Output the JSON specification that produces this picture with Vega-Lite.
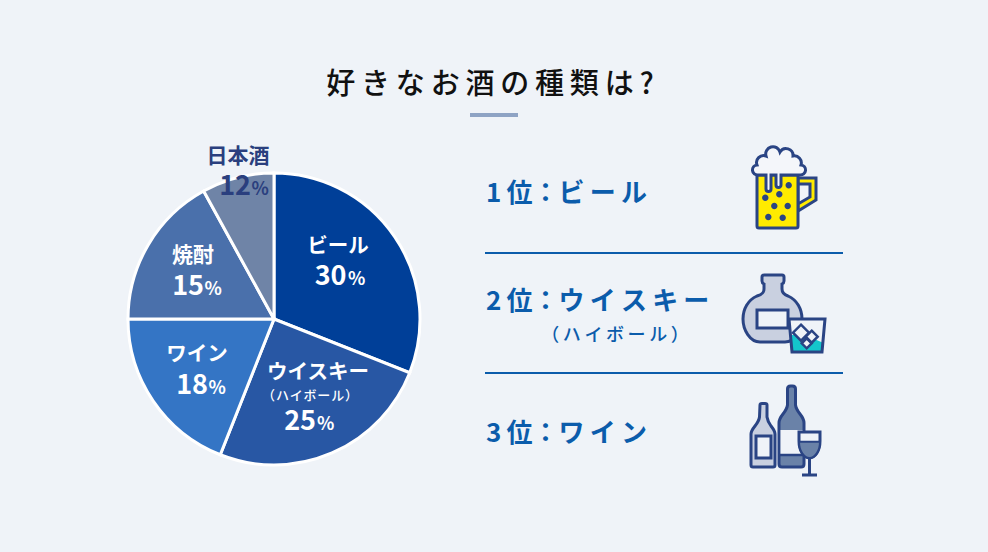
{"$schema":"https://vega.github.io/schema/vega-lite/v6.json","background":"#EFF3F8","padding":{"left":88,"right":145,"top":71,"bottom":14},"spacing":0,
"title":{"text":"好\u2009き\u2009な\u2009お\u2009酒\u2009の\u2009種\u2009類\u2009は\u2009?","font":"Noto Sans CJK JP","fontSize":29,"fontWeight":500,"color":"#111111","anchor":"middle","dx":24,"offset":0,"baseline":"top"},
"config":{"view":{"stroke":null},"axis":{"disable":true},"font":"Noto Sans CJK JP"},
"hconcat":[
{"width":372,"height":438,"data":{"values":[{"order":1,"name":"ビール","share":30,"drawn":31},{"order":2,"name":"ウイスキー","share":25,"drawn":25},{"order":3,"name":"ワイン","share":18,"drawn":19},{"order":4,"name":"焼酎","share":15,"drawn":17},{"order":5,"name":"日本酒","share":12,"drawn":8}]},
"layer":[
{"mark":{"type":"arc","outerRadius":146,"stroke":"#FFFFFF","strokeWidth":3},"encoding":{"theta":{"field":"drawn","type":"quantitative","stack":true},"order":{"field":"order"},"color":{"field":"name","type":"nominal","legend":null,"sort":null,"scale":{"domain":["ビール","ウイスキー","ワイン","焼酎","日本酒"],"range":["#003F98","#2857A4","#3475C5","#4A70AB","#6F84A7"]}}}},
{"transform":[{"filter":"datum.order==1"}],"layer":[
{"mark":{"type":"text","fontSize":20.5,"fontWeight":700,"color":"#FFFFFF"},"encoding":{"x":{"datum":338,"type":"quantitative","scale":{"domain":[88,460]}},"y":{"datum":247,"type":"quantitative","scale":{"domain":[100,538],"reverse":true}},"text":{"field":"name"}}},
{"mark":{"type":"text","fontSize":27,"fontWeight":700,"color":"#FFFFFF","align":"right"},"encoding":{"x":{"datum":346.5,"type":"quantitative","scale":{"domain":[88,460]}},"y":{"datum":277,"type":"quantitative","scale":{"domain":[100,538],"reverse":true}},"text":{"field":"share"}}},
{"mark":{"type":"text","fontSize":18,"fontWeight":700,"color":"#FFFFFF","align":"left","text":"%"},"encoding":{"x":{"datum":348,"type":"quantitative","scale":{"domain":[88,460]}},"y":{"datum":280,"type":"quantitative","scale":{"domain":[100,538],"reverse":true}}}}
]},
{"transform":[{"filter":"datum.order==2"}],"layer":[
{"mark":{"type":"text","fontSize":20.5,"fontWeight":700,"color":"#FFFFFF"},"encoding":{"x":{"datum":318,"type":"quantitative","scale":{"domain":[88,460]}},"y":{"datum":373,"type":"quantitative","scale":{"domain":[100,538],"reverse":true}},"text":{"field":"name"}}},
{"mark":{"type":"text","fontSize":13,"fontWeight":500,"color":"#FFFFFF","text":"\uFF08\u200aハ\u200aイ\u200aボ\u200aー\u200aル\u200a\uFF09"},"encoding":{"x":{"datum":310,"type":"quantitative","scale":{"domain":[88,460]}},"y":{"datum":396,"type":"quantitative","scale":{"domain":[100,538],"reverse":true}}}},
{"mark":{"type":"text","fontSize":27,"fontWeight":700,"color":"#FFFFFF","align":"right"},"encoding":{"x":{"datum":316,"type":"quantitative","scale":{"domain":[88,460]}},"y":{"datum":422,"type":"quantitative","scale":{"domain":[100,538],"reverse":true}},"text":{"field":"share"}}},
{"mark":{"type":"text","fontSize":18,"fontWeight":700,"color":"#FFFFFF","align":"left","text":"%"},"encoding":{"x":{"datum":317,"type":"quantitative","scale":{"domain":[88,460]}},"y":{"datum":425,"type":"quantitative","scale":{"domain":[100,538],"reverse":true}}}}
]},
{"transform":[{"filter":"datum.order==3"}],"layer":[
{"mark":{"type":"text","fontSize":20.5,"fontWeight":700,"color":"#FFFFFF"},"encoding":{"x":{"datum":197,"type":"quantitative","scale":{"domain":[88,460]}},"y":{"datum":355,"type":"quantitative","scale":{"domain":[100,538],"reverse":true}},"text":{"field":"name"}}},
{"mark":{"type":"text","fontSize":27,"fontWeight":700,"color":"#FFFFFF","align":"right"},"encoding":{"x":{"datum":208,"type":"quantitative","scale":{"domain":[88,460]}},"y":{"datum":386,"type":"quantitative","scale":{"domain":[100,538],"reverse":true}},"text":{"field":"share"}}},
{"mark":{"type":"text","fontSize":18,"fontWeight":700,"color":"#FFFFFF","align":"left","text":"%"},"encoding":{"x":{"datum":208.5,"type":"quantitative","scale":{"domain":[88,460]}},"y":{"datum":389,"type":"quantitative","scale":{"domain":[100,538],"reverse":true}}}}
]},
{"transform":[{"filter":"datum.order==4"}],"layer":[
{"mark":{"type":"text","fontSize":21,"fontWeight":700,"color":"#FFFFFF"},"encoding":{"x":{"datum":193,"type":"quantitative","scale":{"domain":[88,460]}},"y":{"datum":256,"type":"quantitative","scale":{"domain":[100,538],"reverse":true}},"text":{"field":"name"}}},
{"mark":{"type":"text","fontSize":27,"fontWeight":700,"color":"#FFFFFF","align":"right"},"encoding":{"x":{"datum":204,"type":"quantitative","scale":{"domain":[88,460]}},"y":{"datum":287,"type":"quantitative","scale":{"domain":[100,538],"reverse":true}},"text":{"field":"share"}}},
{"mark":{"type":"text","fontSize":18,"fontWeight":700,"color":"#FFFFFF","align":"left","text":"%"},"encoding":{"x":{"datum":204.5,"type":"quantitative","scale":{"domain":[88,460]}},"y":{"datum":290,"type":"quantitative","scale":{"domain":[100,538],"reverse":true}}}}
]},
{"transform":[{"filter":"datum.order==5"}],"layer":[
{"mark":{"type":"text","fontSize":21,"fontWeight":700,"color":"#2A3F7E"},"encoding":{"x":{"datum":238,"type":"quantitative","scale":{"domain":[88,460]}},"y":{"datum":157,"type":"quantitative","scale":{"domain":[100,538],"reverse":true}},"text":{"field":"name"}}},
{"mark":{"type":"text","fontSize":27,"fontWeight":700,"color":"#2A3F7E","align":"right"},"encoding":{"x":{"datum":251,"type":"quantitative","scale":{"domain":[88,460]}},"y":{"datum":187,"type":"quantitative","scale":{"domain":[100,538],"reverse":true}},"text":{"field":"share"}}},
{"mark":{"type":"text","fontSize":18,"fontWeight":700,"color":"#2A3F7E","align":"left","text":"%"},"encoding":{"x":{"datum":251.5,"type":"quantitative","scale":{"domain":[88,460]}},"y":{"datum":190,"type":"quantitative","scale":{"domain":[100,538],"reverse":true}}}}
]}
]},
{"width":383,"height":438,"data":{"values":[{"rank":1,"label":"1\u2009位\uFF1Aビ\u2009ー\u2009ル"},{"rank":2,"label":"2\u2009位\uFF1Aウ\u2009イ\u2009ス\u2009キ\u2009ー"},{"rank":3,"label":"3\u2009位\uFF1Aワ\u2009イ\u2009ン"}]},
"encoding":{"y":{"field":"rank","type":"quantitative","scale":{"domain":[0.225,3.875],"reverse":true}}},
"layer":[
{"data":{"values":[{"pos":0.35}]},"mark":{"type":"rule","color":"#8EA3C4","strokeWidth":4},"encoding":{"x":{"datum":470,"type":"quantitative","scale":{"domain":[460,843]}},"x2":{"datum":518},"y":{"field":"pos","type":"quantitative","scale":{"domain":[0.225,3.875],"reverse":true}}}},
{"data":{"values":[{"between":1.5},{"between":2.5}]},"mark":{"type":"rule","color":"#0B5CAB","strokeWidth":2},"encoding":{"x":{"datum":485,"type":"quantitative","scale":{"domain":[460,843]}},"x2":{"datum":843},"y":{"field":"between","type":"quantitative","scale":{"domain":[0.225,3.875],"reverse":true}}}},
{"transform":[{"filter":"datum.rank!=2"}],"mark":{"type":"text","align":"left","fontSize":26,"fontWeight":700,"color":"#0B5CAB","dy":1},"encoding":{"x":{"datum":486,"type":"quantitative","scale":{"domain":[460,843]}},"text":{"field":"label"}}},
{"transform":[{"filter":"datum.rank==2"}],"mark":{"type":"text","align":"left","fontSize":26,"fontWeight":700,"color":"#0B5CAB","dy":-11},"encoding":{"x":{"datum":486,"type":"quantitative","scale":{"domain":[460,843]}},"text":{"field":"label"}}},
{"transform":[{"filter":"datum.rank==2"}],"mark":{"type":"text","align":"center","fontSize":18,"fontWeight":500,"color":"#0B5CAB","dy":23,"text":"\uFF08\u2009ハ\u2009イ\u2009ボ\u2009ー\u2009ル\u2009\uFF09"},"encoding":{"x":{"datum":615,"type":"quantitative","scale":{"domain":[460,843]}}}},
{"transform":[{"filter":"datum.rank==1"}],"encoding":{"x":{"datum":785,"type":"quantitative","scale":{"domain":[460,843]}}},"layer":[
{"mark":{"type":"point","size":4,"filled":true,"opacity":1,"fill":"#FFEB00","stroke":"#2A4484","strokeWidth":3,"shape":"M13 -15 H31 V7 L13 18 Z M13 -9 V11 L25 4 V-9 Z"}},
{"mark":{"type":"point","size":4,"filled":true,"opacity":1,"fill":"#FFEB00","stroke":"#2A4484","strokeWidth":3,"shape":"M-28 -18 H13 V33 Q13 35 11 35 H-26 Q-28 35 -28 33 Z"}},
{"mark":{"type":"point","size":4,"filled":true,"opacity":1,"fill":"#F4F6FA","stroke":"#2A4484","strokeWidth":3,"shape":"M-27 -18 A5 5 0 0 1 -28 -28 A7 7 0 0 1 -19 -37 A7 7 0 0 1 -5 -41 A7 7 0 0 1 8 -37 A7 7 0 0 1 16 -28 A5 5 0 0 1 15 -18 H-4 V-8 A2.5 2.5 0 0 1 -9 -8 V-18 H-14 V-4 A2.5 2.5 0 0 1 -19 -4 V-18 Z"}},
{"mark":{"type":"point","size":4,"filled":true,"opacity":1,"fill":"#2A4484","strokeWidth":0,"shape":"M0.5 -7.7a3.2 3.2 0 1 0 6.4 0a3.2 3.2 0 1 0 -6.4 0Z M-8.9 1.3a3.2 3.2 0 1 0 6.4 0a3.2 3.2 0 1 0 -6.4 0Z M-22.9 4.7a3.2 3.2 0 1 0 6.4 0a3.2 3.2 0 1 0 -6.4 0Z M-13.9 13a3.2 3.2 0 1 0 6.4 0a3.2 3.2 0 1 0 -6.4 0Z M-0.5 13a3.2 3.2 0 1 0 6.4 0a3.2 3.2 0 1 0 -6.4 0Z M-19.9 24a3.2 3.2 0 1 0 6.4 0a3.2 3.2 0 1 0 -6.4 0Z M-5.5 24.7a3.2 3.2 0 1 0 6.4 0a3.2 3.2 0 1 0 -6.4 0Z"}}
]},
{"transform":[{"filter":"datum.rank==2"}],"encoding":{"x":{"datum":785,"type":"quantitative","scale":{"domain":[460,843]}}},"layer":[
{"mark":{"type":"point","size":4,"filled":true,"opacity":1,"fill":"#C9D0E0","stroke":"#2A4484","strokeWidth":3,"shape":"M-21 -38 H-3 Q-1 -38 -1 -36 V-32 Q-1 -30 -3 -29 V-24 Q-3 -19 3 -17 C12 -13 17 -4 17 6 C17 17 10 29 0 29 H-25 C-35 29 -42 17 -42 6 C-42 -4 -37 -13 -28 -17 C-22 -19 -21 -21 -21 -24 V-29 Q-23 -30 -23 -32 V-36 Q-23 -38 -21 -38 Z"}},
{"mark":{"type":"point","size":4,"filled":true,"opacity":1,"fill":"#EFF3F8","stroke":"#2A4484","strokeWidth":3,"shape":"M-28 -3 H3 V15 H-28 Z"}},
{"mark":{"type":"point","size":4,"filled":true,"opacity":1,"fill":"#EFF3F8","stroke":"#2A4484","strokeWidth":0,"shape":"M4 6 H40 L37 39 H7 Z"}},
{"mark":{"type":"point","size":4,"filled":true,"opacity":1,"fill":"#14C6CC","strokeWidth":0,"shape":"M5.5 22 H20 L38.5 30 L37 39 H7 Z"}},
{"mark":{"type":"point","size":4,"filled":true,"opacity":1,"fill":"#EFF3F8","stroke":"#2A4484","strokeWidth":2.5,"shape":"M21.7 25.3 L26.7 30.3 L21.7 35.3 L16.7 30.3 Z"}},
{"mark":{"type":"point","size":4,"filled":true,"opacity":1,"fill":"#EFF3F8","stroke":"#2A4484","strokeWidth":2.5,"shape":"M26.7 17.7 L32.7 23.7 L26.7 29.7 L20.7 23.7 Z"}},
{"mark":{"type":"point","size":4,"filled":true,"opacity":1,"fill":"#EFF3F8","stroke":"#2A4484","strokeWidth":2.5,"shape":"M16 11.7 L24 19.7 L16 27.7 L8 19.7 Z"}},
{"mark":{"type":"point","size":4,"filled":false,"opacity":1,"fill":"transparent","stroke":"#2A4484","strokeWidth":3,"shape":"M4 6 H40 L37 39 H7 Z"}}
]},
{"transform":[{"filter":"datum.rank==3"}],"encoding":{"x":{"datum":785,"type":"quantitative","scale":{"domain":[460,843]}}},"layer":[
{"mark":{"type":"point","size":4,"filled":true,"opacity":1,"fill":"#C9D0E0","stroke":"#2A4484","strokeWidth":3,"shape":"M-25 -28 Q-25 -29.5 -23 -29.5 H-20 Q-18 -29.5 -18 -28 V-16 Q-17.5 -12 -14 -7 Q-10 -2 -10 1 V32 Q-10 34 -12 34 H-32 Q-34 34 -34 32 V1 Q-34 -2 -30 -7 Q-26 -12 -25.5 -16 Z"}},
{"mark":{"type":"point","size":4,"filled":true,"opacity":1,"fill":"#EFF3F8","stroke":"#2A4484","strokeWidth":3,"shape":"M-29 3 H-14 V25 H-29 Z"}},
{"mark":{"type":"point","size":4,"filled":true,"opacity":1,"fill":"#6A82A8","stroke":"#2A4484","strokeWidth":3,"shape":"M2.5 -44 Q2.5 -47 5.5 -47 H7.5 Q10.5 -47 10.5 -44 V-28 Q11 -24 15 -19 Q19 -14 19 -10 V31 Q19 34 16 34 H-3 Q-6 34 -6 31 V-10 Q-6 -14 -2 -19 Q2 -24 2.5 -28 Z"}},
{"mark":{"type":"point","size":4,"filled":true,"opacity":1,"fill":"#EFF3F8","strokeWidth":0,"shape":"M-4.5 -3 H17.5 V21 H-4.5 Z"}},
{"mark":{"type":"point","size":4,"filled":false,"opacity":1,"fill":"transparent","stroke":"#2A4484","strokeWidth":2.5,"shape":"M-6 22 H19"}},
{"mark":{"type":"point","size":4,"filled":true,"opacity":1,"fill":"#EFF3F8","stroke":"#2A4484","strokeWidth":3,"shape":"M14 -1 H35 V8 C35 18 30 25 24.5 25 C19 25 14 18 14 8 Z"}},
{"mark":{"type":"point","size":4,"filled":true,"opacity":1,"fill":"#6A82A8","stroke":"#2A4484","strokeWidth":2,"shape":"M14 8.7 H35 C35 18 30 25 24.5 25 C19 25 14 18 14 8.7 Z"}},
{"mark":{"type":"point","size":4,"filled":false,"opacity":1,"fill":"transparent","stroke":"#2A4484","strokeWidth":3,"shape":"M24.5 25 V42 M17 42 H32"}}
]}
]}
]}
